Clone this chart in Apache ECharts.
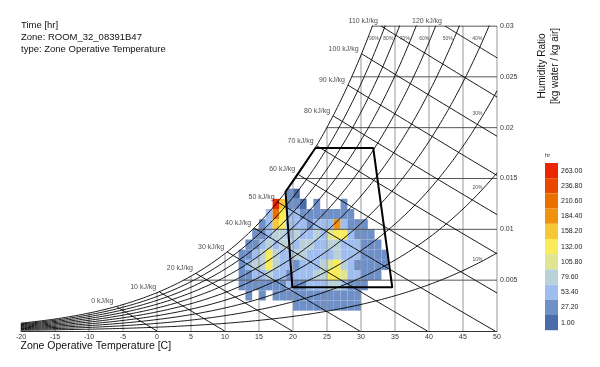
<!DOCTYPE html>
<html><head><meta charset="utf-8">
<script src="https://cdn.jsdelivr.net/npm/echarts@6/dist/echarts.min.js"></script>
<style>html,body{margin:0;padding:0;background:#fff}#c{width:600px;height:367px}</style>
</head><body><div id="c"></div>
<script>
// ---- heatmap data: hours per bin (1 °C wide, 0.001 kg/kg tall) ----
// columns = temperature bins starting at tempStart (12..34 °C)
const tempStart = 12;
const wBin = 0.001;
const hr_w013 = [0,0,0,0,0,0,0,20,10,0,0,0,0,0,0,0,0,0,0,0,0,0,0];
const hr_w012 = [0,0,0,0,0,265,150,35,25,12,0,18,0,0,0,15,0,0,0,0,0,0,0];
const hr_w011 = [0,0,0,0,45,215,130,45,55,30,25,35,20,30,25,22,20,0,0,0,0,0,0];
const hr_w010 = [0,0,0,30,60,170,120,60,50,45,40,55,45,60,185,55,30,25,15,0,0,0,0];
const hr_w009 = [0,0,25,40,55,75,90,65,70,60,55,70,60,105,125,145,55,40,30,20,0,0,0];
const hr_w008 = [0,20,35,50,70,60,75,70,60,80,70,50,60,70,80,60,50,45,30,30,20,0,0];
const hr_w007 = [30,40,60,75,120,70,60,50,70,75,60,55,50,60,70,50,45,50,35,30,25,15,0];
const hr_w006 = [35,50,70,85,125,80,60,50,40,60,50,60,70,110,120,80,60,40,35,30,25,15,0];
const hr_w005 = [25,40,55,60,70,50,45,40,50,45,55,70,80,125,140,115,60,45,30,25,15,0,0];
const hr_w004 = [20,30,40,30,15,35,40,45,40,35,50,45,60,70,80,60,40,30,20,0,0,0,0];
const hr_w003 = [0,20,0,25,0,30,20,25,30,25,30,35,40,30,35,30,20,15,0,0,0,0,0];
const hr_w002 = [0,0,0,0,0,0,0,0,15,20,25,20,30,35,30,25,20,15,0,0,0,0,0];
const rowsByW = [[0.013,hr_w013],[0.012,hr_w012],[0.011,hr_w011],[0.010,hr_w010],[0.009,hr_w009],
  [0.008,hr_w008],[0.007,hr_w007],[0.006,hr_w006],[0.005,hr_w005],[0.004,hr_w004],[0.003,hr_w003],[0.002,hr_w002]];

// ---- legend ----
const legendValues = [1.00,27.20,53.40,79.60,105.80,132.00,158.20,184.40,210.60,236.80,263.00];
const legendColors = ['#4b6ba9','#6f8fc7','#9fbdee','#bad1d8','#e0e591','#f9eb59','#f7c835','#ee920f','#ea7100','#ea4700','#ea2600'];

// ---- psychrometric grid definitions ----
const rhLevels = [10,20,30,40,50,60,70,80,90,100];
const enthalpyLevels = [0,10,20,30,40,50,60,70,80,90,100,110,120];
const tempGrid = [-20,-15,-10,-5,0,5,10,15,20,25,30,35,40,45,50];
const wGrid = [0.005,0.01,0.015,0.02,0.025,0.03];

// ---- comfort polygon ----
const comfortT = [19.9,34.6,31.8,23.3,18.9,19.9];
const comfortW = [0.0043,0.0043,0.018,0.018,0.0137,0.0043];

const P_ATM = 101325, W_MAX = 0.03, T_MAX = 50, T_MIN = -20;
function psat(t){ return 610.94*Math.exp(17.625*t/(t+243.04)); }
function wRH(t, rh){ const pv = rh/100*psat(t); return 0.621945*pv/(P_ATM-pv); }
function tSat(w){ let lo=-40, hi=80; for(let i=0;i<60;i++){ const m=(lo+hi)/2; if(wRH(m,100)<w) lo=m; else hi=m; } return (lo+hi)/2; }
function wH(h,t){ return (h-1.006*t)/(2501+1.86*t); }
function tOnRH(rh, w){ let lo=-40, hi=80; for(let i=0;i<60;i++){ const m=(lo+hi)/2; if(wRH(m,rh)<w) lo=m; else hi=m; } return (lo+hi)/2; }

const series = [];
// heatmap cells
const cells = [];
rowsByW.forEach(([w, arr]) => arr.forEach((v, i) => { if (v > 0) cells.push([tempStart + i, w, v]); }));
series.push({
  type: 'custom', z: 1, silent: true, animation: false,
  encode: { x: 0, y: 1 },
  data: cells,
  renderItem(params, api) {
    const t = api.value(0), w = api.value(1);
    const a = api.coord([t, w + wBin]);
    const b = api.coord([t + 1, w]);
    return { type: 'rect', shape: { x: a[0], y: a[1], width: b[0]-a[0], height: b[1]-a[1] },
      style: { fill: api.visual('color') } };
  }
});

function addLine(data, color, width, z) {
  series.push({ type: 'line', data, showSymbol: false, symbol: 'none', silent: true, animation: false,
    z: z || 3, clip: true, lineStyle: { color, width } });
}
// vertical grid
tempGrid.forEach(t => addLine([[t,0],[t,Math.min(wRH(t,100),W_MAX)]], '#999', 1, 2));
// horizontal grid
wGrid.forEach(w => addLine([[tSat(w),w],[T_MAX,w]], w===W_MAX ? '#222' : '#555', 1, 2));
// RH curves
const rhLabels = [];
rhLevels.forEach(rh => {
  const pts = [];
  for (let t = T_MIN; t <= T_MAX + 1e-9; t += 0.25) { const w = wRH(t, rh); pts.push([t, w]); if (w > W_MAX) break; }
  addLine(pts, '#000', 0.9, 3);
  if (rh < 100) {
    const tl = Math.min(48, tOnRH(rh, 0.0287));
    rhLabels.push([tl, wRH(tl, rh), rh + '%']);
  }
});
// enthalpy lines
const hLabels = [];
enthalpyLevels.forEach(h => {
  let lo=-40, hi=60;
  for (let i=0;i<60;i++){ const m=(lo+hi)/2; if (wRH(m,100) - wH(h,m) < 0) lo=m; else hi=m; }
  let t0 = (lo+hi)/2, w0 = wH(h,t0);
  if (w0 > W_MAX) { t0 = (h - 2501*W_MAX)/(1.006 + 1.86*W_MAX); w0 = W_MAX; }
  let t1 = Math.min(h/1.006, T_MAX);
  const pts = [];
  for (let i=0;i<=20;i++){ const t = t0 + (t1-t0)*i/20; pts.push([t, Math.max(0, wH(h,t))]); }
  addLine(pts, '#000', 0.9, 3);
  hLabels.push([t0, w0, h + ' kJ/kg']);
});
// comfort polygon
addLine(comfortT.map((t,i)=>[t, comfortW[i]]), '#000', 2, 5);
// labels
series.push({ type:'scatter', data: hLabels, symbolSize: 0, silent: true, animation:false, z: 6,
  label: { show: true, position: 'left', distance: 3, offset: [0,-5], fontSize: 7, color: '#222',
    formatter: p => p.value[2] } });
series.push({ type:'scatter', data: rhLabels, symbolSize: 0, silent: true, animation:false, z: 6,
  label: { show: true, position: 'left', distance: 1, offset: [0,-1], fontSize: 5, color: '#222',
    formatter: p => p.value[2] } });
const pieces = legendValues.map((v,i) => ({ gte: v - 13.1, lt: v + 13.1, label: v.toFixed(2), color: legendColors[i] }));
pieces[0].gte = -1e9; pieces[pieces.length-1].lt = 1e9;

const chart = echarts.init(document.getElementById('c'), null, { renderer: 'canvas' });
chart.setOption({
  animation: false,
  textStyle: { fontFamily: 'Liberation Sans, Arial, sans-serif' },
  title: [
    { text: 'Time [hr]\nZone: ROOM_32_08391B47\ntype: Zone Operative Temperature', left: 21, top: 19.5, padding: 0,
      textStyle: { fontSize: 9.5, fontWeight: 'normal', lineHeight: 12, color: '#111' } },
    { text: 'Zone Operative Temperature [C]', left: 20.5, top: 340, padding: 0,
      textStyle: { fontSize: 10.5, fontWeight: 'normal', lineHeight: 13, color: '#111' } },
    { text: 'hr', left: 545, top: 152, padding: 0,
      textStyle: { fontSize: 6, fontWeight: 'normal', color: '#333' } }
  ],
  grid: { left: 21, right: 103, top: 26, bottom: 36 },
  xAxis: { type: 'value', min: -20, max: 50, interval: 5,
    axisLine: { show: true, lineStyle: { color: '#333', width: 1 } },
    axisTick: { show: false }, splitLine: { show: false },
    axisLabel: { fontSize: 7, color: '#333', margin: 3 } },
  yAxis: { type: 'value', position: 'right', min: 0, max: 0.03, interval: 0.005,
    axisLine: { show: false }, axisTick: { show: false }, splitLine: { show: false },
    axisLabel: { fontSize: 7, color: '#333', margin: 3, formatter: v => v === 0 ? '' : String(+v.toFixed(3)) } },
  visualMap: {
    type: 'piecewise', dimension: 2, seriesIndex: 0, pieces,
    orient: 'vertical', align: 'left', left: 545, top: 163, padding: 0,
    itemWidth: 13, itemHeight: 15.2, itemGap: 0, itemSymbol: 'rect', textGap: 3,
    selectedMode: false, hoverLink: false,
    textStyle: { fontSize: 7, color: '#222' }
  },
  graphic: [{
    type: 'text', x: 549, y: 66, rotation: Math.PI/2,
    style: { text: 'Humidity Ratio\n[kg water / kg air]', fontSize: 10, lineHeight: 13,
      fill: '#111', align: 'center', verticalAlign: 'middle', fontFamily: 'Liberation Sans, Arial, sans-serif' }
  }],
  series
});
</script></body></html>
